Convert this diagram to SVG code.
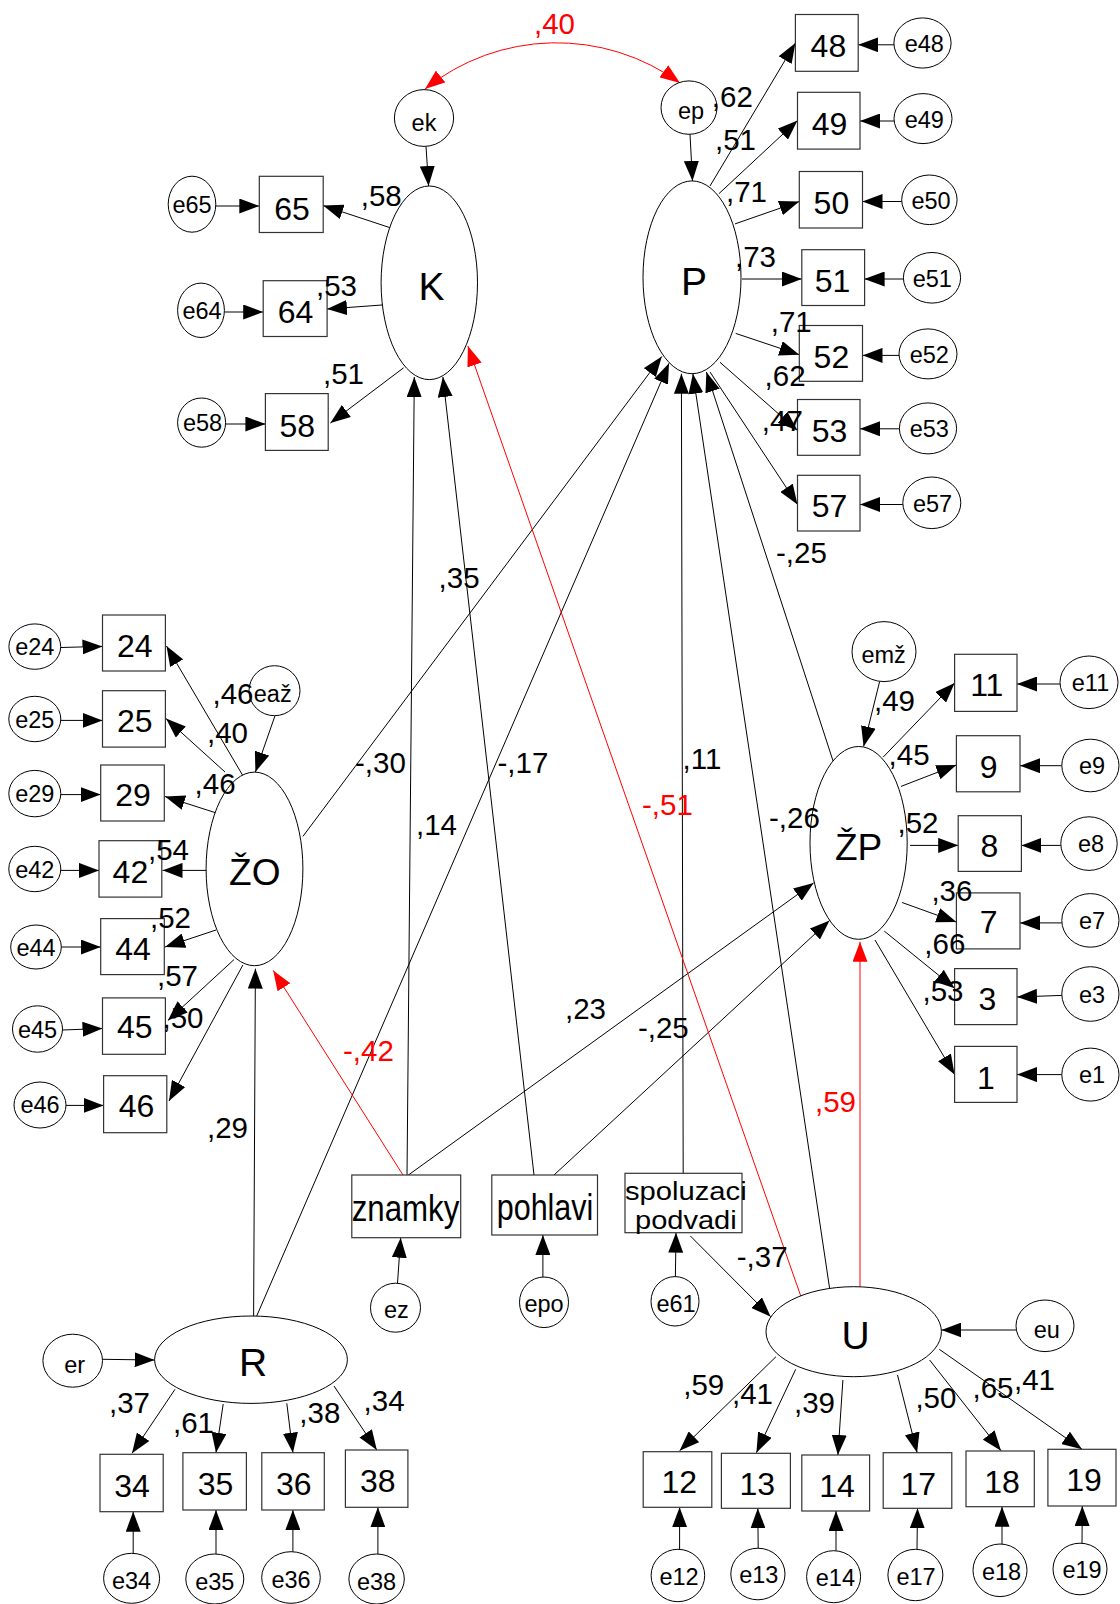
<svg xmlns="http://www.w3.org/2000/svg" width="1120" height="1604" viewBox="0 0 1120 1604">
<style>
  .bg{fill:#fff}
  .c{stroke:#000;stroke-width:1;fill:none;marker-end:url(#ah)}
  .cr{stroke:#f00;stroke-width:1;fill:none;marker-end:url(#ahr)}
  rect{fill:#fff;stroke:#333;stroke-width:1.2}
  ellipse{fill:#fff;stroke:#000;stroke-width:1}
  text{font-family:"Liberation Sans",Arial,sans-serif;fill:#000}
  .lat{font-size:39px;text-anchor:middle}
  .latz{font-size:37px;text-anchor:middle}
  .num{font-size:32px;text-anchor:middle}
  .obs{font-size:37px}
  .obs2{font-size:25px}
  .err{font-size:23.5px;text-anchor:middle}
  .lb{font-size:29.5px}
  .red{fill:#f00}
</style>
<defs>
  <marker id="ah" markerUnits="userSpaceOnUse" markerWidth="20" markerHeight="15" refX="20" refY="7.5" orient="auto" viewBox="0 0 20 15">
    <path d="M0,0 L20,7.5 L0,15 z" fill="#000"/>
  </marker>
  <marker id="ahr" markerUnits="userSpaceOnUse" markerWidth="20" markerHeight="15" refX="20" refY="7.5" orient="auto-start-reverse" viewBox="0 0 20 15">
    <path d="M0,0 L20,7.5 L0,15 z" fill="#f00"/>
  </marker>
</defs>
<rect class="bg" x="0" y="0" width="1120" height="1604" style="stroke:none"/>

<!-- paths and loadings -->
<g id="connectors">
  <!-- covariance ek <-> ep -->
  <path class="cr" d="M425,89 A210,210 0 0 1 680,83" style="marker-start:url(#ahr)"/>
  <!-- structural paths -->
  <line class="c" x1="302.9" y1="836.4" x2="661.8" y2="356.5"/>
  <line class="c" x1="256.4" y1="1316.7" x2="669" y2="363.3"/>
  <line class="c" x1="253.6" y1="1316.7" x2="255.4" y2="968.6"/>
  <line class="c" x1="407" y1="1176" x2="414.3" y2="377"/>
  <line class="cr" x1="403.6" y1="1176" x2="273.2" y2="970.4"/>
  <line class="c" x1="407" y1="1176" x2="813.6" y2="882.9"/>
  <line class="c" x1="534" y1="1175" x2="442.9" y2="377"/>
  <line class="c" x1="554" y1="1175" x2="829.6" y2="920.4"/>
  <line class="c" x1="683.2" y1="1173.3" x2="681.4" y2="373.7"/>
  <line class="c" x1="690.4" y1="1236" x2="770.7" y2="1316.7"/>
  <line class="c" x1="829.6" y1="1288.3" x2="692.9" y2="373.7"/>
  <line class="cr" x1="801" y1="1296.7" x2="467.9" y2="346.1"/>
  <line class="cr" x1="860" y1="1286.7" x2="860" y2="941.8"/>
  <line class="c" x1="833.2" y1="761.4" x2="706.4" y2="372"/>
  <!-- disturbances -->
  <line class="c" x1="426" y1="146.4" x2="428.6" y2="186"/>
  <line class="c" x1="690" y1="134.3" x2="692.5" y2="180.9"/>
  <line class="c" x1="275" y1="715.7" x2="255.4" y2="772"/>
  <line class="c" x1="879.6" y1="681.6" x2="863.6" y2="746.4"/>
  <line class="c" x1="102.5" y1="1359.3" x2="154.6" y2="1360"/>
  <line class="c" x1="1016" y1="1330" x2="941.4" y2="1330"/>
  <line class="c" x1="397.5" y1="1283.2" x2="400.7" y2="1237.7"/>
  <line class="c" x1="542.9" y1="1277" x2="542.9" y2="1235"/>
  <line class="c" x1="675.4" y1="1276.6" x2="676" y2="1232.7"/>
  <!-- K loadings -->
  <line class="c" x1="391" y1="228" x2="323.2" y2="205.6"/>
  <line class="c" x1="382" y1="305" x2="327" y2="309"/>
  <line class="c" x1="403.6" y1="367.8" x2="330.4" y2="423"/>
  <line class="c" x1="216" y1="206" x2="259.3" y2="206"/>
  <line class="c" x1="224.5" y1="312" x2="263.2" y2="312"/>
  <line class="c" x1="225.6" y1="424" x2="265.4" y2="424"/>
  <!-- P loadings -->
  <line class="c" x1="710" y1="186" x2="795.4" y2="43"/>
  <line class="c" x1="719" y1="193.6" x2="797.5" y2="120.5"/>
  <line class="c" x1="735" y1="223.9" x2="799.3" y2="201.5"/>
  <line class="c" x1="742" y1="279" x2="801.8" y2="279"/>
  <line class="c" x1="735.7" y1="333.4" x2="799.3" y2="354.7"/>
  <line class="c" x1="720" y1="362.3" x2="797.5" y2="430.5"/>
  <line class="c" x1="710" y1="372" x2="797.5" y2="504.5"/>
  <line class="c" x1="894" y1="44.8" x2="858.2" y2="44.8"/>
  <line class="c" x1="894" y1="121" x2="860" y2="121"/>
  <line class="c" x1="901.7" y1="201.5" x2="862.5" y2="201.5"/>
  <line class="c" x1="903.4" y1="279" x2="864.6" y2="279"/>
  <line class="c" x1="899" y1="355.4" x2="862.5" y2="355.4"/>
  <line class="c" x1="899.4" y1="428.8" x2="860" y2="428.8"/>
  <line class="c" x1="902.8" y1="504.5" x2="860" y2="504.5"/>
  <!-- ZO loadings -->
  <line class="c" x1="242.9" y1="775.7" x2="166.5" y2="646"/>
  <line class="c" x1="225" y1="772" x2="166" y2="718.6"/>
  <line class="c" x1="217" y1="813.2" x2="165" y2="796.5"/>
  <line class="c" x1="207" y1="870.4" x2="162.5" y2="870.4"/>
  <line class="c" x1="216" y1="930" x2="165" y2="947"/>
  <line class="c" x1="234" y1="959.6" x2="167.9" y2="1020.4"/>
  <line class="c" x1="242.9" y1="965" x2="169" y2="1101"/>
  <line class="c" x1="60.7" y1="647.5" x2="102.5" y2="646.4"/>
  <line class="c" x1="60.7" y1="720.4" x2="102.5" y2="720.4"/>
  <line class="c" x1="60.7" y1="794.6" x2="100.7" y2="794.6"/>
  <line class="c" x1="60.7" y1="870.4" x2="99" y2="870.4"/>
  <line class="c" x1="61.4" y1="947" x2="100.7" y2="947"/>
  <line class="c" x1="62.5" y1="1030" x2="102.5" y2="1028.5"/>
  <line class="c" x1="66" y1="1105.4" x2="103.6" y2="1105.4"/>
  <!-- ZP loadings -->
  <line class="c" x1="883.2" y1="757.1" x2="954.6" y2="682.9"/>
  <line class="c" x1="901" y1="786.4" x2="956.4" y2="765"/>
  <line class="c" x1="910" y1="845.4" x2="958.2" y2="845.4"/>
  <line class="c" x1="902.1" y1="902.5" x2="956.4" y2="922.1"/>
  <line class="c" x1="884.3" y1="931.1" x2="954.6" y2="988.2"/>
  <line class="c" x1="875" y1="940" x2="954.6" y2="1074.6"/>
  <line class="c" x1="1060" y1="684" x2="1017" y2="684"/>
  <line class="c" x1="1061.8" y1="765.7" x2="1020" y2="765.7"/>
  <line class="c" x1="1060.7" y1="845.4" x2="1021.4" y2="845.4"/>
  <line class="c" x1="1061.8" y1="922.9" x2="1020" y2="922.9"/>
  <line class="c" x1="1061.8" y1="995.4" x2="1017" y2="997"/>
  <line class="c" x1="1061.8" y1="1074.6" x2="1017" y2="1074.6"/>
  <!-- R loadings -->
  <line class="c" x1="175" y1="1389.3" x2="132" y2="1453.3"/>
  <line class="c" x1="223.2" y1="1404" x2="216" y2="1452.7"/>
  <line class="c" x1="286.8" y1="1403.3" x2="292.9" y2="1452.7"/>
  <line class="c" x1="334" y1="1386" x2="376.8" y2="1450"/>
  <line class="c" x1="133.2" y1="1553.3" x2="133.2" y2="1511.7"/>
  <line class="c" x1="216" y1="1554" x2="216" y2="1510"/>
  <line class="c" x1="292.9" y1="1551.7" x2="292.9" y2="1510"/>
  <line class="c" x1="377.9" y1="1554" x2="377.9" y2="1507.3"/>
  <!-- U loadings -->
  <line class="c" x1="776" y1="1356.7" x2="679.6" y2="1450.7"/>
  <line class="c" x1="795.7" y1="1369.3" x2="756.4" y2="1452.7"/>
  <line class="c" x1="842.9" y1="1380" x2="837.9" y2="1455"/>
  <line class="c" x1="897.5" y1="1375" x2="917.1" y2="1452.7"/>
  <line class="c" x1="929.6" y1="1360" x2="1001" y2="1450.7"/>
  <line class="c" x1="939.3" y1="1349.3" x2="1082" y2="1449.3"/>
  <line class="c" x1="679.6" y1="1549.3" x2="679.6" y2="1507.3"/>
  <line class="c" x1="758.2" y1="1548.3" x2="757.8" y2="1508.3"/>
  <line class="c" x1="836" y1="1550.7" x2="836" y2="1511"/>
  <line class="c" x1="917" y1="1549.3" x2="917.5" y2="1508.3"/>
  <line class="c" x1="1002" y1="1544" x2="1002" y2="1506.7"/>
  <line class="c" x1="1082" y1="1543.3" x2="1082.3" y2="1506"/>
</g>

<!-- latent variables -->
<g id="K"><ellipse cx="429.3" cy="282.8" rx="48.2" ry="96.8"/><text class="lat" x="431.6" y="299.6">K</text></g>
<g id="P"><ellipse cx="692" cy="277.3" rx="49" ry="96.4"/><text class="lat" x="694" y="294.5">P</text></g>
<g id="ZO"><ellipse cx="254.5" cy="868.9" rx="48.4" ry="96.8"/><text class="latz" x="254.8" y="884.6">ŽO</text></g>
<g id="ZP"><ellipse cx="858.6" cy="842.9" rx="48.6" ry="96.4"/><text class="latz" x="858.6" y="859.6">ŽP</text></g>
<g id="R"><ellipse cx="251" cy="1359.7" rx="96.4" ry="43.7"/><text class="lat" x="253" y="1376">R</text></g>
<g id="U"><ellipse cx="853.7" cy="1331.7" rx="87.7" ry="45"/><text class="lat" x="855.7" y="1349.3">U</text></g>

<!-- observed variables -->
<g id="v65"><rect x="259.3" y="176.3" width="63.9" height="56.2"/><text class="num" x="292" y="219.5">65</text></g>
<g id="v64"><rect x="263.2" y="280.7" width="63.9" height="55.8"/><text class="num" x="295.5" y="322.5">64</text></g>
<g id="v58"><rect x="265.4" y="393.6" width="62.8" height="56.8"/><text class="num" x="297.3" y="437">58</text></g>
<g id="v48"><rect x="795.4" y="14.5" width="62.8" height="56.8"/><text class="num" x="828.4" y="57">48</text></g>
<g id="v49"><rect x="797.5" y="92.3" width="62.5" height="56.8"/><text class="num" x="829.6" y="134.5">49</text></g>
<g id="v50"><rect x="799.3" y="171.5" width="63.2" height="56.5"/><text class="num" x="831.4" y="214">50</text></g>
<g id="v51"><rect x="801.8" y="249.7" width="62.8" height="55.8"/><text class="num" x="832.5" y="291.5">51</text></g>
<g id="v52"><rect x="799.3" y="325.5" width="63.2" height="55.8"/><text class="num" x="831.4" y="368">52</text></g>
<g id="v53"><rect x="797.5" y="399.5" width="62.5" height="55.8"/><text class="num" x="829.6" y="442">53</text></g>
<g id="v57"><rect x="797.5" y="475.3" width="62.5" height="55.7"/><text class="num" x="829.6" y="517">57</text></g>
<g id="v24"><rect x="102.5" y="615" width="62.9" height="56"/><text class="num" x="134.8" y="657">24</text></g>
<g id="v25"><rect x="102.5" y="690.7" width="62.9" height="56.4"/><text class="num" x="134.8" y="732">25</text></g>
<g id="v29"><rect x="100.7" y="765" width="63.6" height="56"/><text class="num" x="133" y="806">29</text></g>
<g id="v42"><rect x="99" y="840.7" width="62.8" height="56.4"/><text class="num" x="130.4" y="882.9">42</text></g>
<g id="v44"><rect x="100.7" y="918.6" width="63.6" height="56"/><text class="num" x="133" y="959.6">44</text></g>
<g id="v45"><rect x="102.5" y="997.9" width="62.9" height="56.4"/><text class="num" x="134.8" y="1038.2">45</text></g>
<g id="v46"><rect x="103.6" y="1075.7" width="63.2" height="57"/><text class="num" x="136.6" y="1117">46</text></g>
<g id="v11"><rect x="954.6" y="654.3" width="62.4" height="57.1"/><text class="num" x="986.8" y="696.4">11</text></g>
<g id="v9"><rect x="956.4" y="735.7" width="63.6" height="56.1"/><text class="num" x="988.6" y="777.5">9</text></g>
<g id="v8"><rect x="958.2" y="815.7" width="63.2" height="55.7"/><text class="num" x="989.5" y="857.1">8</text></g>
<g id="v7"><rect x="956.4" y="892.9" width="63.6" height="56"/><text class="num" x="988.6" y="932.9">7</text></g>
<g id="v3"><rect x="954.6" y="968.6" width="62.4" height="56"/><text class="num" x="987.3" y="1009.6">3</text></g>
<g id="v1"><rect x="954.6" y="1046.4" width="62.4" height="56"/><text class="num" x="986" y="1089">1</text></g>
<g id="v34"><rect x="100" y="1454.3" width="63.2" height="57.4"/><text class="num" x="132" y="1496.7">34</text></g>
<g id="v35"><rect x="182.9" y="1452.7" width="63.5" height="57.3"/><text class="num" x="215.5" y="1495">35</text></g>
<g id="v36"><rect x="261.8" y="1452.7" width="62.5" height="57.3"/><text class="num" x="293.8" y="1495">36</text></g>
<g id="v38"><rect x="345.4" y="1450" width="62.5" height="57.3"/><text class="num" x="377.7" y="1491.7">38</text></g>
<g id="v12"><rect x="643.2" y="1451.7" width="68.6" height="55.6"/><text class="num" x="679.3" y="1493.3">12</text></g>
<g id="v13"><rect x="721.4" y="1453.3" width="69" height="55"/><text class="num" x="757.3" y="1495">13</text></g>
<g id="v14"><rect x="801.8" y="1455" width="67.8" height="56"/><text class="num" x="837.1" y="1496.7">14</text></g>
<g id="v17"><rect x="883.2" y="1452.7" width="68.6" height="55.6"/><text class="num" x="918.2" y="1495">17</text></g>
<g id="v18"><rect x="966" y="1451" width="68.3" height="55.7"/><text class="num" x="1002" y="1492.7">18</text></g>
<g id="v19"><rect x="1047.9" y="1449.3" width="68.1" height="56.7"/><text class="num" x="1084" y="1490.7">19</text></g>
<g id="znamky"><rect x="351.8" y="1175" width="108.9" height="62.7"/><text class="obs" x="351.7" y="1220.7" textLength="107.7" lengthAdjust="spacingAndGlyphs">znamky</text></g>
<g id="pohlavi"><rect x="491.8" y="1175" width="105.7" height="60"/><text class="obs" x="496.7" y="1220" textLength="96.7" lengthAdjust="spacingAndGlyphs">pohlavi</text></g>
<g id="spoluzaci"><rect x="625" y="1173.3" width="117" height="59.4"/><text class="obs2" x="625" y="1199.5" textLength="121.7" lengthAdjust="spacingAndGlyphs">spoluzaci</text><text class="obs2" x="635" y="1228.5" textLength="101.7" lengthAdjust="spacingAndGlyphs">podvadi</text></g>

<!-- residual terms -->
<g id="ek"><ellipse cx="424" cy="118" rx="29.6" ry="28.4"/><text class="err" x="424" y="130.5">ek</text></g>
<g id="ep"><ellipse cx="689" cy="107.6" rx="28" ry="26.7"/><text class="err" x="691" y="118.5">ep</text></g>
<g id="eaz"><ellipse cx="274.5" cy="690.7" rx="25.5" ry="25"/><text class="err" x="272.7" y="702">eaž</text></g>
<g id="emz"><ellipse cx="884" cy="651.6" rx="32" ry="30"/><text class="err" x="883.6" y="663">emž</text></g>
<g id="er"><ellipse cx="72.7" cy="1360.7" rx="29.8" ry="26.5"/><text class="err" x="74.6" y="1372.5">er</text></g>
<g id="eu"><ellipse cx="1045" cy="1325.8" rx="29" ry="25.8"/><text class="err" x="1046.8" y="1338">eu</text></g>
<g id="ez"><ellipse cx="395.5" cy="1307.7" rx="25" ry="24.5"/><text class="err" x="396.4" y="1318">ez</text></g>
<g id="epo"><ellipse cx="544" cy="1302.3" rx="24.5" ry="25.3"/><text class="err" x="544" y="1311.5">epo</text></g>
<g id="e61"><ellipse cx="675" cy="1301.3" rx="24" ry="24.7"/><text class="err" x="676" y="1311.5">e61</text></g>
<g id="e65"><ellipse cx="192" cy="204.2" rx="23.8" ry="28"/><text class="err" x="192" y="212.5">e65</text></g>
<g id="e64"><ellipse cx="201" cy="310.3" rx="23.4" ry="27.2"/><text class="err" x="202" y="318.8">e64</text></g>
<g id="e58"><ellipse cx="201.6" cy="422.6" rx="24" ry="24.6"/><text class="err" x="202.5" y="431">e58</text></g>
<g id="e48"><ellipse cx="922.5" cy="43" rx="28.6" ry="25.1"/><text class="err" x="924.3" y="52">e48</text></g>
<g id="e49"><ellipse cx="923" cy="118.6" rx="29" ry="25"/><text class="err" x="924.3" y="127.5">e49</text></g>
<g id="e50"><ellipse cx="929.4" cy="199.8" rx="27.7" ry="24.8"/><text class="err" x="931" y="208.5">e50</text></g>
<g id="e51"><ellipse cx="932" cy="277.8" rx="28.6" ry="25.3"/><text class="err" x="932.3" y="286.5">e51</text></g>
<g id="e52"><ellipse cx="928" cy="353.9" rx="29" ry="25"/><text class="err" x="929.3" y="362.5">e52</text></g>
<g id="e53"><ellipse cx="928" cy="428.4" rx="28.6" ry="25.5"/><text class="err" x="929.3" y="437">e53</text></g>
<g id="e57"><ellipse cx="931.8" cy="502.8" rx="29" ry="25.8"/><text class="err" x="932.5" y="511.5">e57</text></g>
<g id="e24"><ellipse cx="34.8" cy="646.6" rx="25.9" ry="22.7"/><text class="err" x="34.8" y="655">e24</text></g>
<g id="e25"><ellipse cx="34.8" cy="719" rx="26" ry="22.7"/><text class="err" x="34.8" y="727.5">e25</text></g>
<g id="e29"><ellipse cx="34.8" cy="793.6" rx="26" ry="23.2"/><text class="err" x="34.8" y="802">e29</text></g>
<g id="e42"><ellipse cx="34.8" cy="869" rx="26" ry="22.7"/><text class="err" x="34.8" y="877.5">e42</text></g>
<g id="e44"><ellipse cx="36" cy="947" rx="25.3" ry="22"/><text class="err" x="36" y="955.5">e44</text></g>
<g id="e45"><ellipse cx="37.5" cy="1029" rx="25" ry="23.2"/><text class="err" x="37.5" y="1037.5">e45</text></g>
<g id="e46"><ellipse cx="40" cy="1105" rx="26" ry="23"/><text class="err" x="40" y="1113">e46</text></g>
<g id="e11"><ellipse cx="1089" cy="682.3" rx="29" ry="26.3"/><text class="err" x="1090.5" y="691">e11</text></g>
<g id="e9"><ellipse cx="1090.4" cy="765.5" rx="28.6" ry="26.3"/><text class="err" x="1092" y="774">e9</text></g>
<g id="e8"><ellipse cx="1089" cy="843.6" rx="28.2" ry="26.8"/><text class="err" x="1091" y="852">e8</text></g>
<g id="e7"><ellipse cx="1090.4" cy="920.4" rx="28.6" ry="26.8"/><text class="err" x="1092" y="929">e7</text></g>
<g id="e3"><ellipse cx="1090.4" cy="994" rx="28.6" ry="27.3"/><text class="err" x="1092" y="1002.5">e3</text></g>
<g id="e1"><ellipse cx="1090.4" cy="1074.6" rx="28.6" ry="26.5"/><text class="err" x="1092" y="1083">e1</text></g>
<g id="e34"><ellipse cx="131.6" cy="1578.3" rx="28" ry="25"/><text class="err" x="131.6" y="1589">e34</text></g>
<g id="e35"><ellipse cx="214.8" cy="1579" rx="29" ry="25"/><text class="err" x="214.8" y="1590">e35</text></g>
<g id="e36"><ellipse cx="291" cy="1577.5" rx="29.3" ry="25.8"/><text class="err" x="291" y="1587.5">e36</text></g>
<g id="e38"><ellipse cx="376.6" cy="1579" rx="27.7" ry="25"/><text class="err" x="376.6" y="1590">e38</text></g>
<g id="e12"><ellipse cx="677.9" cy="1575.5" rx="26.8" ry="26.2"/><text class="err" x="679" y="1584.5">e12</text></g>
<g id="e13"><ellipse cx="757.9" cy="1574" rx="27.1" ry="25.8"/><text class="err" x="758.8" y="1583">e13</text></g>
<g id="e14"><ellipse cx="833.6" cy="1576.7" rx="27" ry="26"/><text class="err" x="835.4" y="1586">e14</text></g>
<g id="e17"><ellipse cx="915.4" cy="1575" rx="27.5" ry="25.7"/><text class="err" x="916" y="1584.5">e17</text></g>
<g id="e18"><ellipse cx="1000" cy="1570.3" rx="27" ry="26.3"/><text class="err" x="1001.6" y="1579.5">e18</text></g>
<g id="e19"><ellipse cx="1080" cy="1569" rx="27" ry="25.8"/><text class="err" x="1082" y="1578">e19</text></g>

<!-- coefficient labels -->
<g id="labels">
  <text class="lb red" x="534" y="34.4">,40</text>
  <text class="lb" x="360.7" y="206.3">,58</text>
  <text class="lb" x="316" y="296.2">,53</text>
  <text class="lb" x="323" y="384">,51</text>
  <text class="lb" x="711.8" y="106.8">,62</text>
  <text class="lb" x="715" y="149.8">,51</text>
  <text class="lb" x="726" y="201.5">,71</text>
  <text class="lb" x="735" y="266.9">,73</text>
  <text class="lb" x="770.7" y="332.3">,71</text>
  <text class="lb" x="764.6" y="385.7">,62</text>
  <text class="lb" x="761.8" y="430.5">,47</text>
  <text class="lb" x="776" y="563.2">-,25</text>
  <text class="lb" x="438.6" y="587.5">,35</text>
  <text class="lb" x="212.5" y="704.3">,46</text>
  <text class="lb" x="207" y="742.9">,40</text>
  <text class="lb" x="194.6" y="793.6">,46</text>
  <text class="lb" x="148" y="859.6">,54</text>
  <text class="lb" x="150" y="927.5">,52</text>
  <text class="lb" x="157" y="986.4">,57</text>
  <text class="lb" x="162.5" y="1027.5">,50</text>
  <text class="lb" x="355" y="773.3">-,30</text>
  <text class="lb" x="497.5" y="773.3">-,17</text>
  <text class="lb" x="416" y="834.6">,14</text>
  <text class="lb red" x="343" y="1061.4">-,42</text>
  <text class="lb" x="207" y="1138.3">,29</text>
  <text class="lb" x="874" y="710.7">,49</text>
  <text class="lb" x="888.6" y="765">,45</text>
  <text class="lb" x="897.5" y="832.9">,52</text>
  <text class="lb" x="931.4" y="900.7">,36</text>
  <text class="lb" x="924.3" y="954.3">,66</text>
  <text class="lb" x="922.5" y="1000.7">,53</text>
  <text class="lb" x="682.5" y="768.6">,11</text>
  <text class="lb red" x="642" y="815">-,51</text>
  <text class="lb" x="769" y="827.5">-,26</text>
  <text class="lb" x="565" y="1019.3">,23</text>
  <text class="lb" x="637.9" y="1038.2">-,25</text>
  <text class="lb red" x="815" y="1112">,59</text>
  <text class="lb" x="736.8" y="1266.7">-,37</text>
  <text class="lb" x="109" y="1413.3">,37</text>
  <text class="lb" x="173" y="1433.3">,61</text>
  <text class="lb" x="299.3" y="1423.3">,38</text>
  <text class="lb" x="363.6" y="1410.7">,34</text>
  <text class="lb" x="683.2" y="1395">,59</text>
  <text class="lb" x="732" y="1404">,41</text>
  <text class="lb" x="794" y="1413.3">,39</text>
  <text class="lb" x="915.4" y="1408.3">,50</text>
  <text class="lb" x="972.5" y="1398.3">,65</text>
  <text class="lb" x="1014" y="1390">,41</text>
</g>
</svg>
